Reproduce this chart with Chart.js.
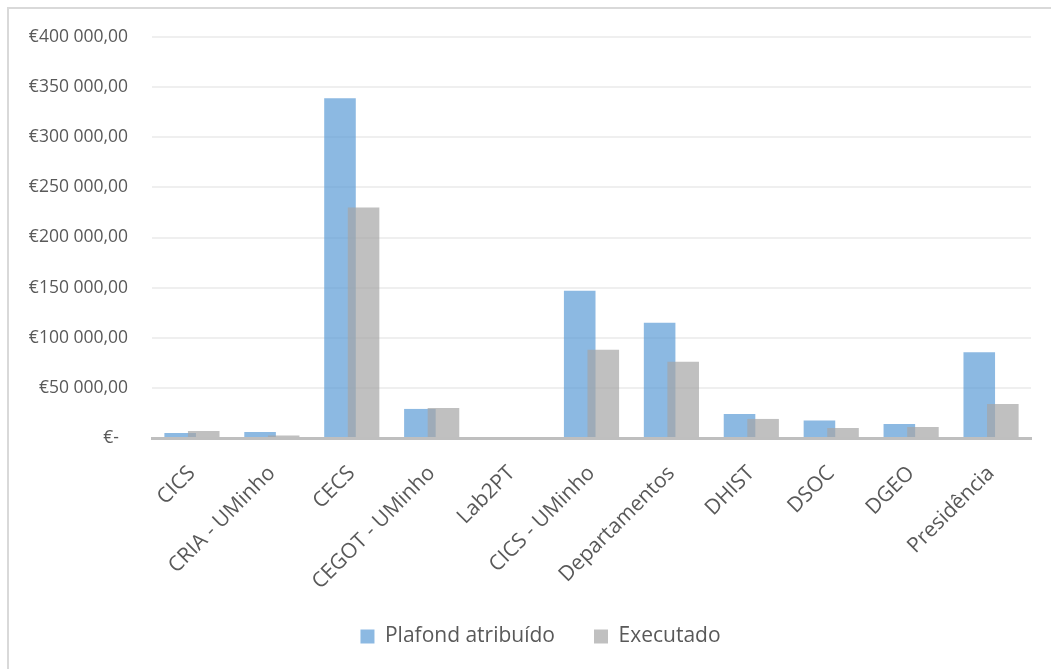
<!DOCTYPE html>
<html>
<head>
<meta charset="utf-8">
<script src="https://cdn.jsdelivr.net/npm/chart.js@4.4.0/dist/chart.umd.min.js"></script>
<style>
  html, body { margin: 0; padding: 0; background: #fff; }
  #wrap { position: relative; width: 1051px; height: 669px; overflow: hidden; }
  #frame { position: absolute; left: 7px; top: 7px; width: 1100px; height: 700px; border: 2px solid #d9d9d9; box-sizing: border-box; }
  canvas { position: absolute; left: 0; top: 0; }
</style>
</head>
<body>
<div id="wrap">
  <div id="frame"></div>
  <canvas id="myChart" width="1051" height="669"></canvas>
</div>
<script>
// centros / unidades
var categories = ['CICS', 'CRIA - UMinho', 'CECS', 'CEGOT - UMinho', 'Lab2PT', 'CICS - UMinho',
    'Departamentos', 'DHIST', 'DSOC', 'DGEO', 'Presidência'];
var plafond = [5000, 6000, 339000, 29000, 0, 147000, 115000, 24000, 17500, 14000, 85500];
var executado = [7000, 2500, 230000, 30000, 0, 88000, 76000, 19000, 10000, 11000, 34000];
var yTicks = [0, 50000, 100000, 150000, 200000, 250000, 300000, 350000, 400000];

var textColor = '#595959';
var fontFamily = "'Open Sans', sans-serif";

function formatEuro(v) {
    if (v === 0) return '€-  ';
    return '€' + String(v).replace(/\B(?=(\d{3})+(?!\d))/g, ' ') + ',00';
}

// the grey series overlaps the blue one, so it is drawn last
var greyOnTop = {
    id: 'greyOnTop',
    beforeDatasetDraw: function (chart, args) {
        if (args.index === 1) return false;
    },
    afterDatasetsDraw: function (chart) {
        chart.getDatasetMeta(1).controller.draw();
    }
};

// centre the legend under the whole frame, not under the canvas minus padding
var legendShift = {
    id: 'legendShift',
    afterLayout: function (chart) {
        chart.legend.left += 50;
    }
};

var ctx = document.getElementById('myChart').getContext('2d');
var myChart = new Chart(ctx, {
    type: 'bar',
    data: {
        labels: categories,
        datasets: [{
            label: 'Plafond atribuído',
            data: plafond,
            backgroundColor: 'rgba(91, 155, 213, 0.7)',
            borderWidth: 0
        }, {
            label: 'Executado',
            data: executado,
            backgroundColor: 'rgba(165, 165, 165, 0.7)',
            borderWidth: 0
        }]
    },
    options: {
        responsive: false,
        animation: false,
        devicePixelRatio: 1,
        categoryPercentage: 0.59,
        barPercentage: 1.34,
        layout: { padding: { left: 0, right: 20, top: 37, bottom: 12 } },
        plugins: {
            tooltip: { enabled: false },
            legend: {
                position: 'bottom',
                labels: {
                    boxWidth: 14,
                    boxHeight: 14,
                    padding: 39,
                    color: textColor,
                    font: { family: fontFamily, size: 21 }
                }
            }
        },
        scales: {
            x: {
                grid: { display: false, drawTicks: false },
                border: { color: '#bfbfbf', width: 3 },
                ticks: {
                    color: textColor,
                    font: { family: fontFamily, size: 21 },
                    maxRotation: 45,
                    minRotation: 45,
                    padding: 23,
                    autoSkip: false
                },
                afterFit: function (scale) { scale.height = 149; }
            },
            y: {
                min: 0,
                max: 400000,
                grid: { color: '#efefef', lineWidth: 2, drawTicks: false },
                border: { display: false },
                afterBuildTicks: function (scale) {
                    scale.ticks = yTicks.map(function (v) { return { value: v }; });
                },
                ticks: {
                    color: textColor,
                    font: { family: fontFamily, size: 17.5 },
                    padding: 24,
                    callback: function (v) { return formatEuro(v); }
                },
                afterFit: function (scale) { scale.width = 152; }
            }
        }
    },
    plugins: [greyOnTop, legendShift]
});
</script>
</body>
</html>
